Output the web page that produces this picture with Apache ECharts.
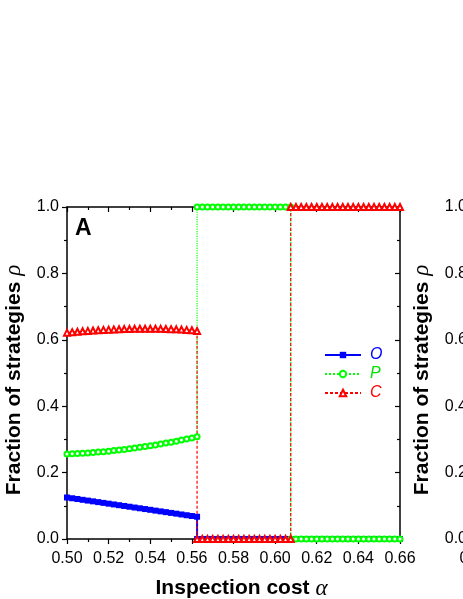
<!DOCTYPE html>
<html>
<head>
<meta charset="utf-8">
<script src="https://cdn.jsdelivr.net/npm/echarts@6/dist/echarts.min.js"></script>
<style>
  html, body { margin: 0; padding: 0; background: #fff; }
  #chart { width: 463px; height: 599px; }
</style>
</head>
<body>
<div id="chart"></div>
<script>
// inspection cost (x); jump points appear twice so the vertical steps are drawn
const alpha = [
  0.5, 0.5025, 0.505, 0.5075, 0.51, 0.5125, 0.515, 0.5175, 0.52, 0.5225,
  0.525, 0.5275, 0.53, 0.5325, 0.535, 0.5375, 0.54, 0.5425, 0.545, 0.5475,
  0.55, 0.5525, 0.555, 0.5575, 0.56, 0.5625,
  0.5625, 0.565, 0.5675, 0.57, 0.5725, 0.575, 0.5775, 0.58, 0.5825, 0.585,
  0.5875, 0.59, 0.5925, 0.595, 0.5975, 0.6, 0.6025, 0.605, 0.6075,
  0.6075, 0.61, 0.6125, 0.615, 0.6175, 0.62, 0.6225, 0.625, 0.6275, 0.63,
  0.6325, 0.635, 0.6375, 0.64, 0.6425, 0.645, 0.6475, 0.65, 0.6525, 0.655,
  0.6575, 0.66
]

// fraction of O strategy
const oFrac = [
  0.125, 0.1227, 0.1204, 0.118, 0.1157, 0.1134, 0.1111, 0.1088, 0.1064, 0.1041,
  0.1018, 0.0995, 0.0972, 0.0948, 0.0925, 0.0902, 0.0879, 0.0855, 0.0832, 0.0809,
  0.0786, 0.0763, 0.0739, 0.0716, 0.0693, 0.067,
  0, 0, 0, 0, 0, 0, 0, 0, 0, 0,
  0, 0, 0, 0, 0, 0, 0, 0, 0,
  0, 0, 0, 0, 0, 0, 0, 0, 0, 0,
  0, 0, 0, 0, 0, 0, 0, 0, 0, 0,
  0, 0
]

// fraction of P strategy
const pFrac = [
  0.256, 0.2567, 0.2574, 0.2583, 0.2594, 0.2605, 0.2618, 0.2631, 0.2646, 0.2662,
  0.268, 0.2698, 0.2718, 0.2738, 0.276, 0.2784, 0.2808, 0.2833, 0.286, 0.2888,
  0.2917, 0.2947, 0.2979, 0.3011, 0.3045, 0.308,
  1, 1, 1, 1, 1, 1, 1, 1, 1, 1,
  1, 1, 1, 1, 1, 1, 1, 1, 1,
  0, 0, 0, 0, 0, 0, 0, 0, 0, 0,
  0, 0, 0, 0, 0, 0, 0, 0, 0, 0,
  0, 0
]

// fraction of C strategy
const cFrac = [
  0.6215, 0.623, 0.6244, 0.6257, 0.6268, 0.6279, 0.6289, 0.6298, 0.6306, 0.6313,
  0.6318, 0.6323, 0.6327, 0.633, 0.6332, 0.6333, 0.6333, 0.6332, 0.633, 0.6326,
  0.6321, 0.6315, 0.6307, 0.6298, 0.6287, 0.6265,
  0, 0, 0, 0, 0, 0, 0, 0, 0, 0,
  0, 0, 0, 0, 0, 0, 0, 0, 0,
  1, 1, 1, 1, 1, 1, 1, 1, 1, 1,
  1, 1, 1, 1, 1, 1, 1, 1, 1, 1,
  1, 1
]

const FONT = 'Liberation Sans, Arial, sans-serif'
const SERIF = 'Liberation Serif, Times New Roman, serif'

const pairs = vals => alpha.map((a, i) => [a, vals[i]])

const axisLine = { show: true, onZero: false, lineStyle: { color: '#000', width: 1.5 } }
const labelStyle = { color: '#000', fontSize: 16, fontFamily: FONT }

function xAxisFor(grid, pos) {
  const bottom = pos === 'bottom'
  return {
    gridIndex: grid,
    type: 'value',
    position: pos,
    min: 0.5,
    max: 0.66,
    interval: 0.02,
    axisLine: axisLine,
    axisTick: { show: true, inside: !bottom, length: 5, lineStyle: { color: '#000', width: 1.2 } },
    minorTick: { show: true, splitNumber: 2, length: 3, lineStyle: { color: '#000', width: 1.2 } },
    axisLabel: Object.assign({ show: bottom, margin: 12, formatter: v => v.toFixed(2) }, labelStyle),
    splitLine: { show: false },
    name: bottom ? '{b|Inspection cost }{g|α}' : '',
    nameLocation: 'middle',
    nameGap: 38,
    nameTextStyle: {
      padding: [0, 0, 0, 16],
      rich: {
        b: { fontSize: 21, fontWeight: 'bold', fontFamily: FONT, color: '#000' },
        g: { fontSize: 23, fontStyle: 'italic', fontFamily: SERIF, color: '#000' }
      }
    }
  }
}

function yAxisFor(grid, pos) {
  const left = pos === 'left'
  return {
    gridIndex: grid,
    type: 'value',
    position: pos,
    min: 0,
    max: 1,
    interval: 0.2,
    axisLine: axisLine,
    axisTick: { show: true, inside: !left, length: 5, lineStyle: { color: '#000', width: 1.2 } },
    minorTick: { show: true, splitNumber: 2, length: 3, lineStyle: { color: '#000', width: 1.2 } },
    axisLabel: Object.assign({ show: left, margin: 8, formatter: v => v.toFixed(1) }, labelStyle),
    splitLine: { show: false },
    name: left ? '{b|Fraction of strategies }{g|ρ}' : '',
    nameLocation: 'middle',
    nameRotate: 90,
    nameGap: 39,
    nameTextStyle: {
      padding: [0, 14, 0, 0],
      rich: {
        b: { fontSize: 21, fontWeight: 'bold', fontFamily: FONT, color: '#000' },
        g: { fontSize: 23, fontStyle: 'italic', fontFamily: SERIF, color: '#000' }
      }
    }
  }
}

const chart = echarts.init(document.getElementById('chart'), null, { renderer: 'canvas' })
chart.setOption({
  animation: false,
  backgroundColor: '#fff',
  grid: [
    { left: 67, top: 207, width: 333, height: 332, outerBoundsMode: 'none', containLabel: false },
    // panel B, almost entirely outside the window
    { left: 475, top: 207, width: 333, height: 332, outerBoundsMode: 'none', containLabel: false }
  ],
  xAxis: [xAxisFor(0, 'bottom'), xAxisFor(0, 'top'), xAxisFor(1, 'bottom'), xAxisFor(1, 'top')],
  yAxis: [yAxisFor(0, 'left'), yAxisFor(0, 'right'), yAxisFor(1, 'left'), yAxisFor(1, 'right')],
  legend: {
    left: 324,
    top: 347,
    padding: 0,
    orient: 'vertical',
    itemWidth: 36,
    itemHeight: 8,
    itemGap: 3,
    textStyle: { fontSize: 16, fontStyle: 'italic', fontFamily: FONT, padding: [0, 0, 0, 4] },
    data: [
      { name: 'O', textStyle: { color: '#0000ff' } },
      { name: 'P', textStyle: { color: '#00e000' } },
      { name: 'C', textStyle: { color: '#ff0000' } }
    ]
  },
  graphic: [
    { type: 'text', left: 75, top: 217, style: { text: 'A', font: 'bold 23px ' + FONT, fill: '#000' } }
  ],
  series: [
    {
      name: 'O',
      type: 'line',
      xAxisIndex: 0,
      yAxisIndex: 0,
      data: pairs(oFrac),
      symbol: 'rect',
      symbolSize: 6,
      itemStyle: { color: '#0000ff' },
      lineStyle: { color: '#0000ff', width: 2 }
    },
    {
      name: 'P',
      type: 'line',
      xAxisIndex: 0,
      yAxisIndex: 0,
      data: pairs(pFrac),
      symbol: 'emptyCircle',
      symbolSize: 5,
      itemStyle: { color: '#00ff00', borderWidth: 1 },
      lineStyle: { color: '#00ff00', width: 1.2, type: 'dotted' }
    },
    {
      name: 'C',
      type: 'line',
      xAxisIndex: 0,
      yAxisIndex: 0,
      data: pairs(cFrac),
      symbol: 'emptyTriangle',
      symbolSize: 6,
      itemStyle: { color: '#ff0000', borderWidth: 1 },
      lineStyle: { color: '#ff0000', width: 1.2, type: [3, 2] }
    }
  ]
})
</script>
</body>
</html>
